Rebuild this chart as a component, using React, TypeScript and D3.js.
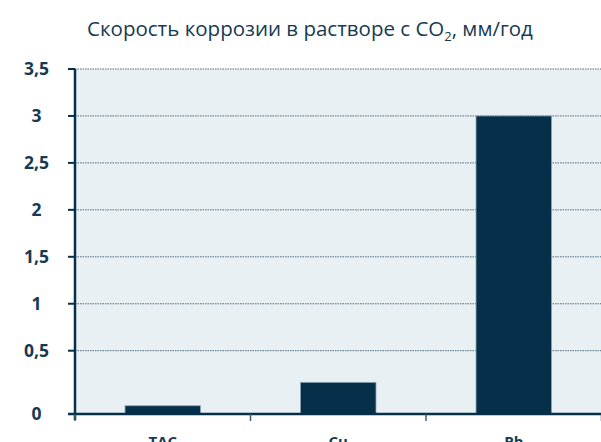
import React, { useEffect, useRef } from 'react';
import * as d3 from 'd3';

// chart data
const categories = ['TAC', 'Cu', 'Pb'];
const rates = [0.065, 0.25, 3.0];
const yTicks = [0, 0.5, 1, 1.5, 2, 2.5, 3, 3.5];
const yTickLabels = ['0', '0,5', '1', '1,5', '2', '2,5', '3', '3,5'];

const App = () => {
  const svgRef = useRef<SVGSVGElement>(null);

  useEffect(() => {
    const width = 601;
    const height = 442;
    const margin = { top: 69, right: 0, bottom: 28, left: 75 };
    const dark = '#06304a';
    const textColor = '#163a52';

    const svg = d3.select(svgRef.current);
    svg.selectAll('*').remove();
    svg.attr('width', width).attr('height', height);

    // title
    const title = svg.append('text')
      .attr('x', 310)
      .attr('y', 36)
      .attr('text-anchor', 'middle')
      .attr('fill', textColor)
      .style('font-family', 'Open Sans, sans-serif')
      .style('font-size', '20.5px');
    title.append('tspan').text('Скорость коррозии в растворе с CO');
    title.append('tspan').attr('dy', 5).style('font-size', '13px').text('2');
    title.append('tspan').attr('dy', -5).text(', мм/год');

    const xScale = d3.scaleBand()
      .domain(categories)
      .range([margin.left, margin.left + 175.5 * 3])
      .paddingInner(0.57)
      .paddingOuter(0.285);

    const xOuter = d3.scaleBand()
      .domain(categories)
      .range([margin.left, margin.left + 175.5 * 3]);

    // the original axis is stretched below 0,5
    const yScale = d3.scaleLinear()
      .domain([0, 0.5, 3.5])
      .range([height - margin.bottom, 350.7, margin.top]);

    // plot background
    svg.append('rect')
      .attr('x', margin.left)
      .attr('y', yScale(3.5))
      .attr('width', width - margin.left)
      .attr('height', yScale(0) - yScale(3.5))
      .attr('fill', '#e8f0f4');

    // grid
    svg.selectAll('.grid')
      .data(yTicks.filter(d => d > 0))
      .enter().append('line')
      .attr('x1', margin.left)
      .attr('x2', width)
      .attr('y1', d => yScale(d))
      .attr('y2', d => yScale(d))
      .attr('stroke', '#4f6a7d')
      .attr('stroke-width', 1)
      .attr('stroke-dasharray', '1.5,1');

    // bars
    svg.selectAll('.bar')
      .data(rates)
      .enter().append('rect')
      .attr('x', (d, i) => xScale(categories[i])!)
      .attr('y', d => yScale(d))
      .attr('width', xScale.bandwidth())
      .attr('height', d => yScale(0) - yScale(d))
      .attr('fill', dark)
      .attr('stroke', '#8da3b2')
      .attr('stroke-width', 0.8);

    // y axis
    svg.append('line')
      .attr('x1', margin.left).attr('x2', margin.left)
      .attr('y1', yScale(3.5)).attr('y2', yScale(0) + 6)
      .attr('stroke', dark).attr('stroke-width', 2.5);
    svg.selectAll('.ytick')
      .data(yTicks)
      .enter().append('line')
      .attr('x1', margin.left - 7).attr('x2', margin.left)
      .attr('y1', d => yScale(d)).attr('y2', d => yScale(d))
      .attr('stroke', dark).attr('stroke-width', 2);
    svg.selectAll('.ylabel')
      .data(yTicks)
      .enter().append('text')
      .attr('x', 36.5)
      .attr('y', d => yScale(d) + 6)
      .attr('text-anchor', 'middle')
      .attr('fill', textColor)
      .style('font-family', 'Open Sans, sans-serif')
      .style('font-weight', 'bold')
      .style('font-size', '17.5px')
      .text((d, i) => yTickLabels[i]);

    // x axis
    svg.append('line')
      .attr('x1', margin.left - 7).attr('x2', width)
      .attr('y1', yScale(0)).attr('y2', yScale(0))
      .attr('stroke', dark).attr('stroke-width', 2.5);
    const xEdges = categories.map(c => xOuter(c)!).concat([margin.left + 175.5 * 3]);
    svg.selectAll('.xtick')
      .data(xEdges)
      .enter().append('line')
      .attr('x1', d => d).attr('x2', d => d)
      .attr('y1', yScale(0)).attr('y2', yScale(0) + 7)
      .attr('stroke', '#3d5b70').attr('stroke-width', 1.5);
    svg.selectAll('.xlabel')
      .data(categories)
      .enter().append('text')
      .attr('x', d => xScale(d)! + xScale.bandwidth() / 2)
      .attr('y', 447)
      .attr('text-anchor', 'middle')
      .attr('fill', textColor)
      .style('font-family', 'Open Sans, sans-serif')
      .style('font-weight', 'bold')
      .style('font-size', '15px')
      .text(d => d);
  }, []);

  return (
    <svg ref={svgRef} style={{ position: 'absolute', left: 0, top: 0, background: '#fff' }}></svg>
  );
};

export default App;
